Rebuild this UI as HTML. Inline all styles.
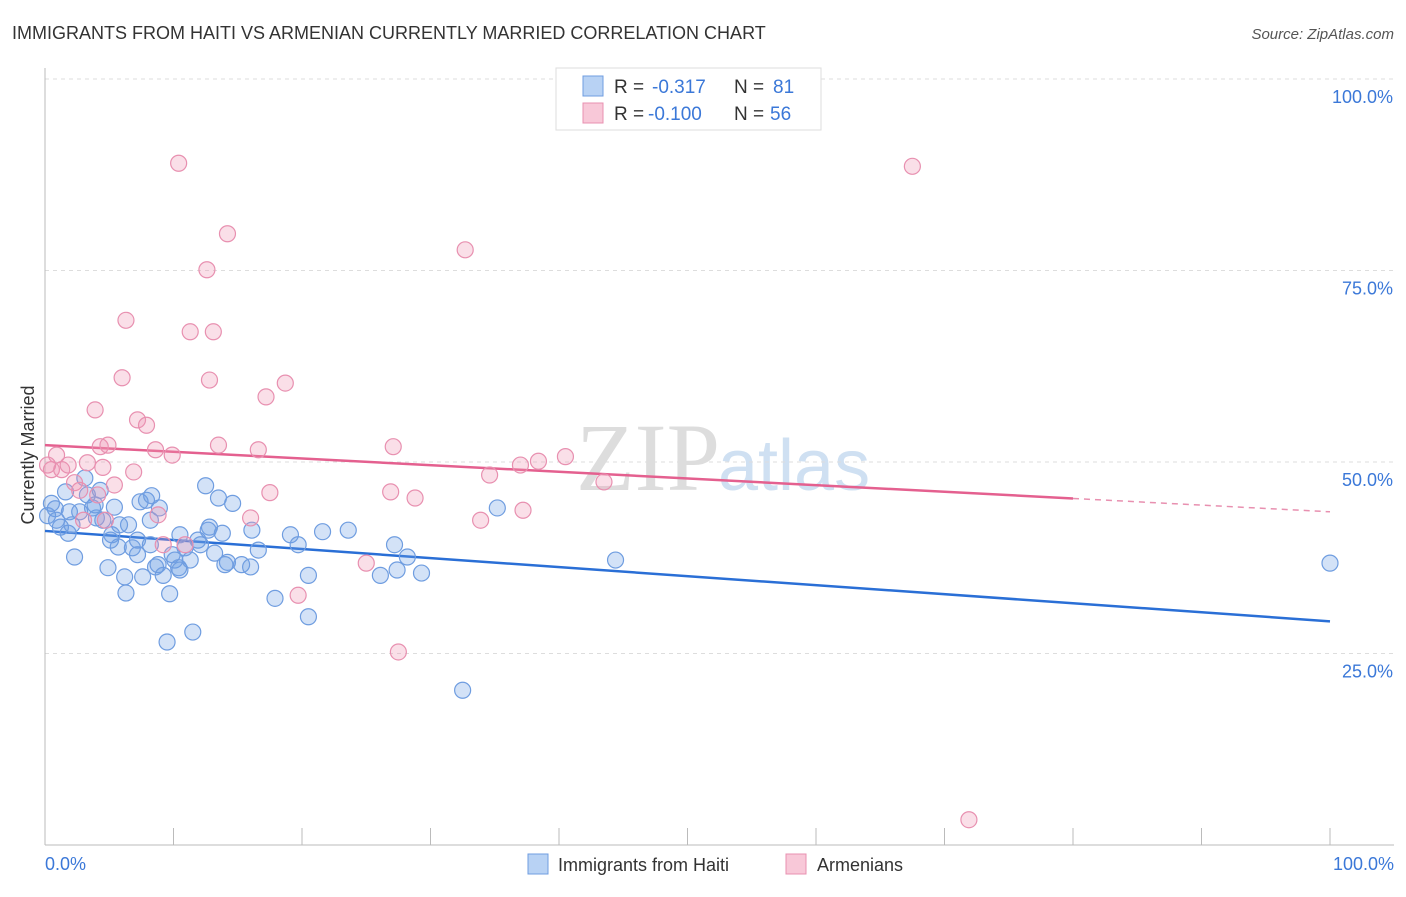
<!DOCTYPE html>
<html><head><meta charset="utf-8"><style>
body{margin:0;background:#fff;font-family:"Liberation Sans",sans-serif}
</style></head><body>
<svg width="1406" height="892" font-family="Liberation Sans, sans-serif">
<text x="12" y="39" font-size="18" fill="#333">IMMIGRANTS FROM HAITI VS ARMENIAN CURRENTLY MARRIED CORRELATION CHART</text>
<text x="1394" y="39" font-size="15" fill="#555" font-style="italic" text-anchor="end">Source: ZipAtlas.com</text>
<text x="720" y="490" font-size="96" fill="#ddd" font-family="Liberation Serif, serif" text-anchor="end">ZIP</text>
<text x="718" y="490" font-size="72" fill="#cfe0f2">atlas</text>
<g id="grid"></g><g id="axes"></g><g id="trends"></g><g id="pts"></g>
<text transform="translate(34,455) rotate(-90)" font-size="18" fill="#333" text-anchor="middle">Currently Married</text>
<g>
<rect x="556" y="68" width="265" height="62" fill="#fff" stroke="#ddd"/>
<rect x="583" y="76" width="20" height="20" fill="#b8d2f4" stroke="#6f9de0"/>
<rect x="583" y="103" width="20" height="20" fill="#f8c8d8" stroke="#e890b0"/>
<text x="614" y="93" font-size="19" fill="#333">R =</text>
<text x="652" y="93" font-size="19" fill="#3b78d8">-0.317</text>
<text x="734" y="93" font-size="19" fill="#333">N =</text>
<text x="773" y="93" font-size="19" fill="#3b78d8">81</text>
<text x="614" y="120" font-size="19" fill="#333">R =</text>
<text x="648" y="120" font-size="19" fill="#3b78d8">-0.100</text>
<text x="734" y="120" font-size="19" fill="#333">N =</text>
<text x="770" y="120" font-size="19" fill="#3b78d8">56</text>
</g>
<g>
<rect x="528" y="854" width="20" height="20" fill="#b8d2f4" stroke="#6f9de0"/>
<text x="558" y="871" font-size="18" fill="#333">Immigrants from Haiti</text>
<rect x="786" y="854" width="20" height="20" fill="#f8c8d8" stroke="#e890b0"/>
<text x="817" y="871" font-size="18" fill="#333">Armenians</text>
</g>
</svg>
<script>
const yTicks=[25,50,75,100];
const xTickLabels=["0.0%","100.0%"];
const blueX=[.5,.8,.2,1.2,1.8,2.3,2.1,2.7,3.1,3.3,3.7,4.0,4.3,4.5,4.9,5.2,5.4,5.7,6.2,6.3,6.5,6.8,7.2,7.4,7.6,7.9,8.2,8.3,8.6,8.8,8.9,9.2,9.7,9.5,9.9,10.1,10.4,10.5,10.9,11.3,11.5,11.9,12.1,12.5,12.7,12.8,13.2,13.5,13.8,14.2,14.6,15.3,16.0,16.1,16.6,17.9,19.1,19.7,20.5,20.5,21.6,23.6,26.1,27.2,27.4,28.2,29.3,32.5,35.2,44.4,100,5.8,3.9,1.6,7.2,.9,5.1,10.5,8.2,14.0,1.9];
const blueY=[44.6,43.9,43.0,41.5,40.7,37.6,41.8,43.5,47.9,45.7,44.0,42.7,46.3,42.4,36.2,40.5,44.1,38.9,35.0,32.9,41.8,38.8,37.9,44.8,35.0,45.0,39.2,45.6,36.3,36.6,44.0,35.2,32.8,26.5,37.9,37.2,36.2,35.9,38.8,37.2,27.8,39.8,39.2,46.9,41.1,41.5,38.1,45.3,40.7,36.9,44.6,36.6,36.3,41.1,38.5,32.2,40.5,39.2,35.2,29.8,40.9,41.1,35.2,39.2,35.9,37.6,35.5,20.2,44.0,37.2,36.8,41.8,44.4,46.1,39.8,42.4,39.8,40.5,42.4,36.6,43.5];
const pinkX=[.5,.9,1.3,1.8,2.3,2.7,3.3,3.9,4.1,4.3,4.5,4.9,5.4,6.0,6.3,6.9,7.2,7.9,8.6,8.8,9.2,9.9,10.4,10.9,11.3,12.6,12.8,13.1,13.5,14.2,16.0,16.6,17.2,17.5,18.7,19.7,25.0,26.9,27.1,27.5,28.8,32.7,33.9,34.6,37.0,37.2,38.4,40.5,43.5,67.5,71.9,.2,3.0,4.7];
const pinkY=[49.0,50.9,49.0,49.6,47.3,46.3,49.9,56.8,45.7,52.0,49.3,52.2,47.0,61.0,68.5,48.7,55.5,54.8,51.6,43.1,39.2,50.9,89.0,39.2,67.0,75.1,60.7,67.0,52.2,79.8,42.7,51.6,58.5,46.0,60.3,32.6,36.8,46.1,52.0,25.2,45.3,77.7,42.4,48.3,49.6,43.7,50.1,50.7,47.4,88.6,3.3,49.6,42.4,42.4];
const blueTrend=[41.0,29.2];
const pinkTrend=[52.2,43.5];
const pinkSolidEnd=80;
const NS="http://www.w3.org/2000/svg";
const X=v=>45+v*12.85, Y=v=>845-v*7.66;
function mk(tag,attrs,parent){const e=document.createElementNS(NS,tag);for(const k in attrs)e.setAttribute(k,attrs[k]);document.getElementById(parent).appendChild(e);return e;}
yTicks.forEach(t=>{
 const g=mk('line',{x1:45,x2:1394,y1:Y(t),y2:Y(t),stroke:'#ddd','stroke-dasharray':'4,4'},'grid');
 
 
 const l=mk('text',{x:1393,y:Y(t)+24,'font-size':18,fill:'#3b78d8','text-anchor':'end'},'grid');l.textContent=t.toFixed(1)+'%';
 
 
});
const ax=mk('line',{x1:45,x2:45,y1:68,y2:845,stroke:'#bbb'},'axes');


const bx=mk('line',{x1:45,x2:1394,y1:845,y2:845,stroke:'#bbb'},'axes');


for(let i=0;i<=10;i++){const t=mk('line',{x1:X(i*10),x2:X(i*10),y1:828,y2:845,stroke:'#bbb'},'axes');
 
 }
[[0,'start',45],[100,'end',1394]].forEach((d,i)=>{const t=mk('text',{x:d[2],y:870,'font-size':18,fill:'#3b78d8','text-anchor':d[1]},'axes');t.textContent=xTickLabels[i];
 
 });
function dots(xs,ys,fill,stroke,name){xs.forEach((x,i)=>{const c=mk('circle',{cx:X(x),cy:Y(ys[i]),r:8,fill:fill,stroke:stroke,'stroke-width':1.2},'pts');
 
 });}
dots(blueX,blueY,'rgba(110,160,230,0.3)','#6f9de0','haiti-point');
dots(pinkX,pinkY,'rgba(240,150,180,0.3)','#e890b0','armenian-point');
const bt=mk('line',{x1:X(0),y1:Y(blueTrend[0]),x2:X(100),y2:Y(blueTrend[1]),stroke:'#2a6fd6','stroke-width':2.5},'trends');


const pm=pinkTrend[0]+(pinkTrend[1]-pinkTrend[0])*pinkSolidEnd/100;
const pt=mk('line',{x1:X(0),y1:Y(pinkTrend[0]),x2:X(pinkSolidEnd),y2:Y(pm),stroke:'#e4608f','stroke-width':2.5},'trends');


const pd=mk('line',{x1:X(pinkSolidEnd),y1:Y(pm),x2:X(100),y2:Y(pinkTrend[1]),stroke:'#e890b0','stroke-width':1.5,'stroke-dasharray':'6,5'},'trends');


</script>
</body></html>
